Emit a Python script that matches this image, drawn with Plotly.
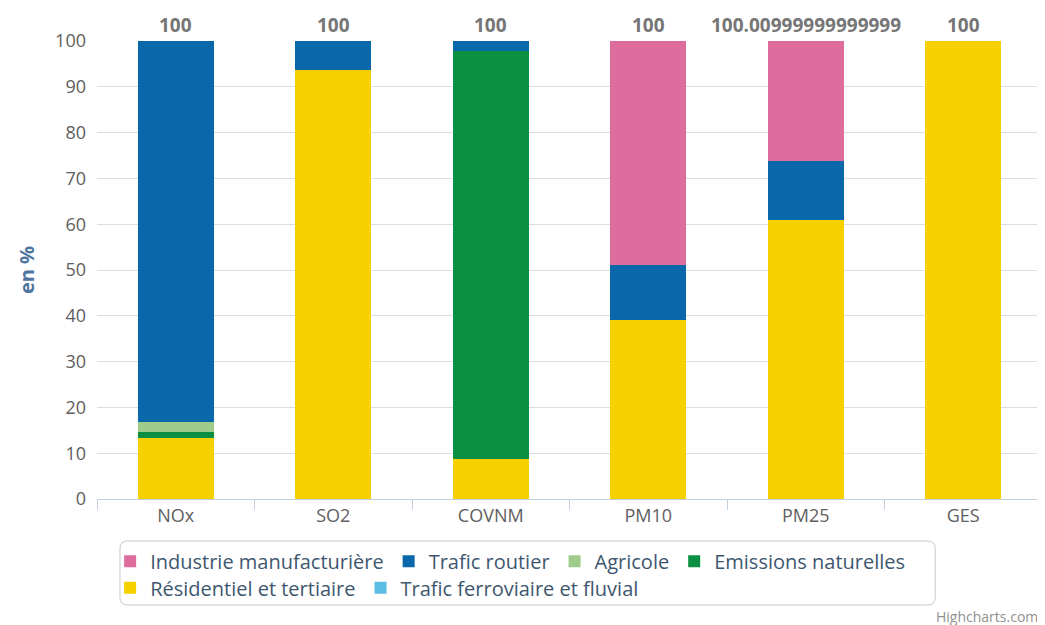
import plotly.graph_objects as go

categories = ["NOx", "SO2", "COVNM", "PM10", "PM25", "GES"]

# shares in % per source
industrie = [0, 0, 0, 48.9, 26.21, 0]
trafic_routier = [83.2, 6.3, 2.2, 12.0, 12.9, 0]
agricole = [2.2, 0, 0, 0, 0, 0]
emissions_naturelles = [1.3, 0, 89.1, 0, 0, 0]
residentiel = [13.3, 93.7, 8.7, 39.1, 60.9, 100]
ferroviaire = [0, 0, 0, 0, 0, 0]

totals = [100, 100, 100, 100, 100.01, 100]
total_labels = ["100", "100", "100", "100", "100.00999999999999", "100"]

font_family = "Open Sans, sans-serif"

# Highcharts stacks the first series on top, so add them bottom-up
series = [
    ("Trafic ferroviaire et fluvial", ferroviaire, "#5cbde3", "legend2", 6),
    ("Résidentiel et tertiaire", residentiel, "#f6d000", "legend2", 5),
    ("Emissions naturelles", emissions_naturelles, "#0b8f42", "legend", 4),
    ("Agricole", agricole, "#9fcc8b", "legend", 3),
    ("Trafic routier", trafic_routier, "#0868aa", "legend", 2),
    ("Industrie manufacturière", industrie, "#de6c9d", "legend", 1),
]

fig = go.Figure()
for name, vals, color, leg, rank in series:
    fig.add_trace(go.Bar(
        x=categories,
        y=vals,
        name=name,
        marker=dict(color=color, line=dict(width=0)),
        legend=leg,
        legendrank=rank,
        hovertemplate="%{x}<br>" + name + ": %{y}<extra></extra>",
    ))

# stack totals above each column (clamped to the axis range so they stay visible)
for cat, tot, lab in zip(categories, totals, total_labels):
    fig.add_annotation(
        x=cat, y=min(tot, 100), text=f"<b>{lab}</b>", showarrow=False,
        yanchor="bottom", yshift=1,
        font=dict(size=19, color="#767676", family=font_family),
    )

# credit
fig.add_annotation(
    x=1, y=0, xref="paper", yref="paper", xanchor="right", yanchor="middle",
    xshift=-2, yshift=-117,
    text="Highcharts.com", showarrow=False,
    font=dict(size=14, color="#909090", family=font_family),
)

# rounded legend box
x0, x1, y0, y1, r = 0.0243, 0.887, -0.2314, -0.0917, 0.008
ry = r * 945 / 458
fig.add_shape(
    type="path", xref="paper", yref="paper",
    path=(f"M {x0 + r},{y1} L {x1 - r},{y1} Q {x1},{y1} {x1},{y1 - ry} "
          f"L {x1},{y0 + ry} Q {x1},{y0} {x1 - r},{y0} L {x0 + r},{y0} "
          f"Q {x0},{y0} {x0},{y0 + ry} L {x0},{y1 - ry} Q {x0},{y1} {x0 + r},{y1} Z"),
    line=dict(color="#c8c8c8", width=1),
)

legend_style = dict(
    orientation="h", xanchor="left", yanchor="top",
    xref="container", yref="container",
    font=dict(size=20, color="#3e576f", family=font_family),
    itemwidth=30, itemclick=False, bgcolor="rgba(0,0,0,0)",
    traceorder="normal", tracegroupgap=0,
)

# page body has an 8px margin, so the figure is 8px smaller than the window
fig.update_layout(
    width=1037,
    height=617,
    margin=dict(l=89, r=3, t=33, b=126),
    paper_bgcolor="white",
    plot_bgcolor="white",
    font=dict(family=font_family, color="#606060"),
    barmode="stack",
    bargap=0.52,
    showlegend=True,
    legend=dict(x=0.0985, y=0.1350, **legend_style),
    legend2=dict(x=0.0985, y=0.0920, **legend_style),
    xaxis=dict(
        showgrid=False,
        showline=True, linecolor="#c0d0e0", linewidth=1,
        ticks="outside", tickson="boundaries", ticklen=10, tickcolor="#c0d0e0",
        tickfont=dict(size=18, color="#606060"),
    ),
    yaxis=dict(
        range=[0, 100],
        dtick=10,
        showgrid=True, gridcolor="#dedede", gridwidth=1,
        zeroline=False,
        tickfont=dict(size=18, color="#606060"),
        ticklabelstandoff=10,
        title=dict(text="<b>en %</b>", font=dict(size=20, color="#4d759e"), standoff=15),
    ),
)

fig.write_html("out.html")
